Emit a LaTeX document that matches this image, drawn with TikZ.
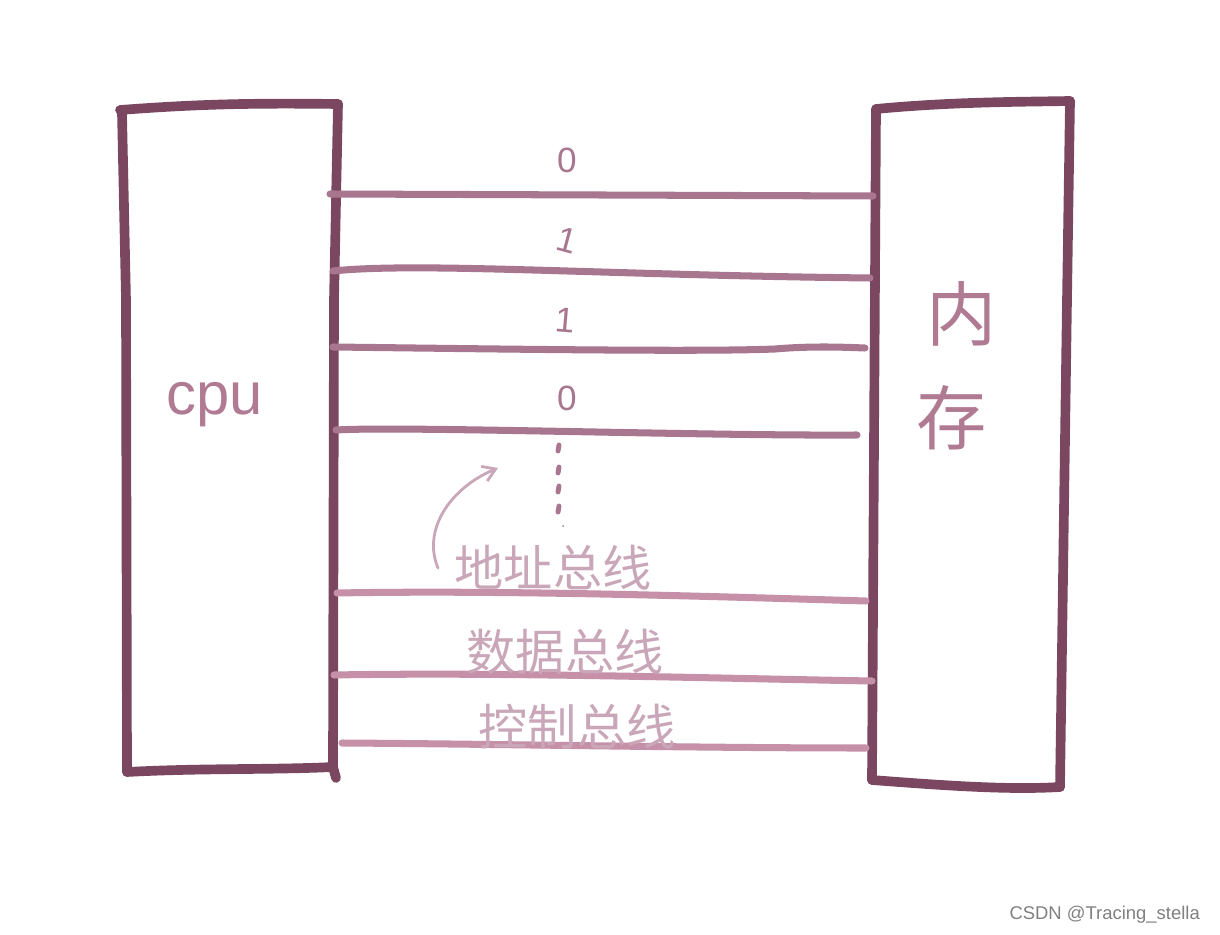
\documentclass[tikz,border=0pt]{standalone}
\usepackage{fontspec}
\setmainfont{Liberation Sans}
\newfontfamily\cjk{Noto Sans CJK SC}
\usetikzlibrary{arrows.meta}

\definecolor{boxcol}{HTML}{7A4660}
\definecolor{addrcol}{HTML}{A8768F}
\definecolor{buscol}{HTML}{C690A8}
\definecolor{labelcol}{HTML}{C9A7B8}
\definecolor{namecol}{HTML}{B07A93}

\begin{document}
\begin{tikzpicture}[x=0.02cm, y=-0.02cm, line cap=round, line join=round,
    frame/.style={boxcol, line width=5.5pt},
    addrline/.style={addrcol, line width=4pt},
    busline/.style={buscol, line width=4pt},
    bit/.style={addrcol, font=\fontsize{20}{20}\selectfont},
    buslabel/.style={labelcol, font=\cjk\fontsize{28}{28}\selectfont}]

    \useasboundingbox (0,0) rectangle (1220,935);

    % --- CPU 方框 ---
    \coordinate (CpuTL) at (120,110);
    \coordinate (CpuTR) at (338,104);
    \coordinate (CpuBL) at (127,772);
    \coordinate (CpuBR) at (333,767);
    \draw[frame] (CpuTL) .. controls (200,104) and (250,103) .. (CpuTR);
    \draw[frame] (CpuTR) -- (334,300) -- (CpuBR) -- (336,778);
    \draw[frame] (122,113) -- (126,300) -- (CpuBL);
    \draw[frame] (CpuBL) .. controls (200,768) and (270,770) .. (CpuBR);
    \node[namecol, font=\fontsize{34}{34}\selectfont, anchor=base] (cpu) at (215,415) {cpu};

    % --- 内存 方框 ---
    \coordinate (MemTL) at (876,109);
    \coordinate (MemTR) at (1070,101);
    \coordinate (MemBL) at (872,780);
    \coordinate (MemBR) at (1060,787);
    \draw[frame] (MemTL) -- (MemBL);
    \draw[frame] (MemTL) .. controls (950,102) and (1010,102) .. (MemTR);
    \draw[frame] (MemTR) -- (1067,300) -- (MemBR);
    \draw[frame] (MemBL) .. controls (950,786) and (1010,790) .. (MemBR);
    \node[namecol, font=\cjk\fontsize{40}{40}\selectfont] (nei) at (962,314) {内};
    \node[namecol, font=\cjk\fontsize{40}{40}\selectfont] (cun) at (952,418) {存};

    % --- 地址线 ---
    \draw[addrline] (330,194) -- (873,196);
    \draw[addrline] (333,271) .. controls (420,262) and (600,275) .. (870,278);
    \draw[addrline] (333,347) .. controls (500,349) and (700,352) .. (775,349)
        .. controls (810,346) and (840,347) .. (865,348);
    \draw[addrline] (336,430) .. controls (400,426) and (700,436) .. (857,435);

    % 地址信号
    \node[bit] (b0) at (567,160) {0};
    \node[bit, rotate=-15] (b1) at (567,240) {1};
    \node[bit, rotate=-5] (b2) at (565,320) {1};
    \node[bit] (b3) at (567,398) {0};
    \foreach \y in {448,470,489,509}
        \draw[addrcol, line width=2.8pt] (559,\y-3) -- (558,\y+3);
    \fill[addrcol] (563,526) circle (1);

    % --- 三条总线 ---
    \draw[busline] (337,593) .. controls (500,590) and (700,596) .. (866,601);
    \draw[busline] (334,675) .. controls (500,672) and (700,678) .. (872,681);
    \draw[busline] (342,743) .. controls (500,744) and (700,748) .. (866,748);

    % 总线名称
    \node[buslabel] (addr) at (553,568) {地址总线};
    \node[buslabel] (data) at (565,652) {数据总线};
    \node[buslabel] (ctrl) at (577,727) {控制总线};
    \draw[labelcol, line width=1.6pt, -{Straight Barb[length=7pt, width=9pt]}]
        (438,568) .. controls (422,530) and (450,488) .. (498,468);

    % 水印
    \node[gray, font=\fontsize{10.5}{10.5}\selectfont, anchor=east] (mark) at (1206,915) {CSDN @Tracing\_stella};

\end{tikzpicture}
\end{document}
